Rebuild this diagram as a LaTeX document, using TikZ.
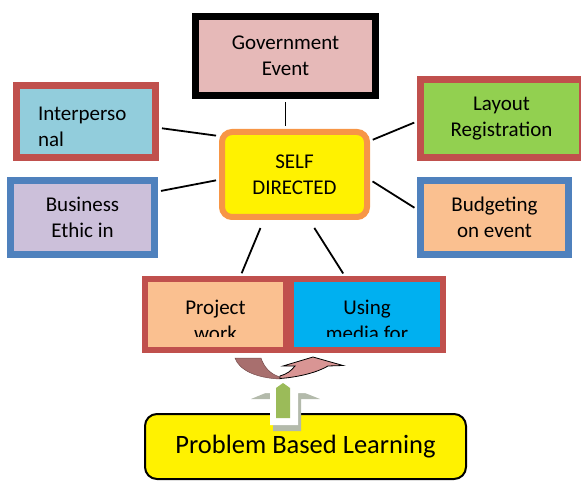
\documentclass[tikz,border=0pt]{standalone}
\usepackage{fontspec}
\setmainfont{Carlito}
\usepackage{tikz}
\usetikzlibrary{calc}

\definecolor{govfill}{HTML}{E6B9B8}
\definecolor{interfill}{HTML}{92CDDC}
\definecolor{busfill}{HTML}{CCC0DA}
\definecolor{layfill}{HTML}{92D050}
\definecolor{budfill}{HTML}{FAC090}
\definecolor{usefill}{HTML}{00B0F0}
\definecolor{redline}{HTML}{C0504D}
\definecolor{blueline}{HTML}{4F81BD}
\definecolor{orangeline}{HTML}{F79646}
\definecolor{turndark}{HTML}{A86F6E}
\definecolor{turnlight}{HTML}{D99594}
\definecolor{shaftgreen}{HTML}{9BBB59}
\definecolor{arrowgray}{HTML}{B3BAAB}

\newcommand{\cellfont}{\fontsize{21}{26}\selectfont}
\newcommand{\pblfont}{\fontsize{26.5}{32}\selectfont}

\tikzset{
  box/.style={rectangle, line width=7pt, inner sep=0pt, align=center, font=\cellfont},
  cell/.style={inner sep=0pt, align=center, font=\cellfont},
  dropby/.style={execute at begin node={\rule{0pt}{#1}}},
  link/.style={line width=1.8pt, shorten <=3pt, shorten >=3pt}
}

\begin{document}
\begin{tikzpicture}[x=1pt,y=-1pt]
\clip (0,0) rectangle (581,481);
% boxes round the centre
\node[box, dropby=16pt, draw=black, fill=govfill, minimum width=180pt, minimum height=79pt] (gov) at (285.5,56) {Government\\Event};
\node[box, dropby=24pt, draw=redline, fill=interfill, minimum width=139pt, minimum height=72pt, text width=96pt, align=left] (inter) at (86,121.5) {Interperso\\nal};
\node[box, dropby=20pt, draw=blueline, fill=busfill, minimum width=144pt, minimum height=74pt] (bus) at (82.5,217.5) {Business\\Ethic in};
\node[box, dropby=18pt, draw=orangeline, line width=6pt, rounded corners=10pt, fill=yellow, minimum width=145pt, minimum height=85pt] (self) at (294.5,174.5) {SELF\\DIRECTED};
\node[box, dropby=20pt, draw=redline, fill=layfill, minimum width=162pt, minimum height=78pt] (lay) at (501.5,118.5) {Layout\\Registration};
\node[box, dropby=20pt, draw=blueline, fill=budfill, minimum width=148pt, minimum height=74pt] (bud) at (494.5,217.5) {Budgeting\\on event};
% lower pair, text cut off at the bottom
\node[box, draw=redline, line width=6pt, fill=budfill, minimum width=141pt, minimum height=71pt] (proj) at (215.5,314.5) {};
\node[box, draw=redline, line width=6pt, fill=usefill, minimum width=152pt, minimum height=71pt] (using) at (367,314.5) {};
\begin{scope}
\clip (142,282) rectangle (446,336);
\node[cell] (projtext) at ($(proj)+(0,6)$) {Project\\work};
\node[cell] (usingtext) at ($(using)+(0,6)$) {Using\\media for};
\end{scope}
\node[box, draw=black, line width=2pt, rounded corners=12pt, fill=yellow, minimum width=321pt, minimum height=65pt, font=\pblfont] (pbl) at (305.5,446.5) {Problem Based Learning};

% connectors
\draw[link, shorten <=3.5pt] (gov.south) -- (gov.south |- self.north);
\draw[link] (inter.-5) -- (self.153);
\draw[link] (bus.19) -- (self.184);
\draw[link] (lay.182) -- (self.24);
\draw[link] (bud.174) -- (self.-4);
\draw[link, shorten <=8.7pt] (self.236) -- (proj.57);
\draw[link, shorten <=9.4pt] (self.-72) -- (using.120);

% turning arrow
\filldraw[fill=turndark, draw=turndark!70!black, line width=0.5pt] (235,358) -- (261,358) .. controls (264,367) and (270,374) .. (280,377) -- (280,379) .. controls (256,378) and (239,370) .. cycle;
\filldraw[fill=turnlight, draw=black, line width=0.8pt] (280,378.5) .. controls (300,377) and (318,372) .. (328,366) -- (343,365.5) -- (313,357) -- (283,366) -- (295,366) .. controls (291,371) and (287,374) .. (280,376) -- cycle;

% up arrow
\fill[arrowgray] (285,385) -- (320,399) -- (301,399) -- (301,431) -- (273,431) -- (273,399) -- (251,399) -- cycle;
\fill[white] (282,379) -- (317,393) -- (298,393) -- (298,425) -- (270,425) -- (270,393) -- (248,393) -- cycle;
\fill[shaftgreen] (276,388) -- (283,383) -- (290,388) -- (290,418) -- (276,418) -- cycle;
\end{tikzpicture}
\end{document}
